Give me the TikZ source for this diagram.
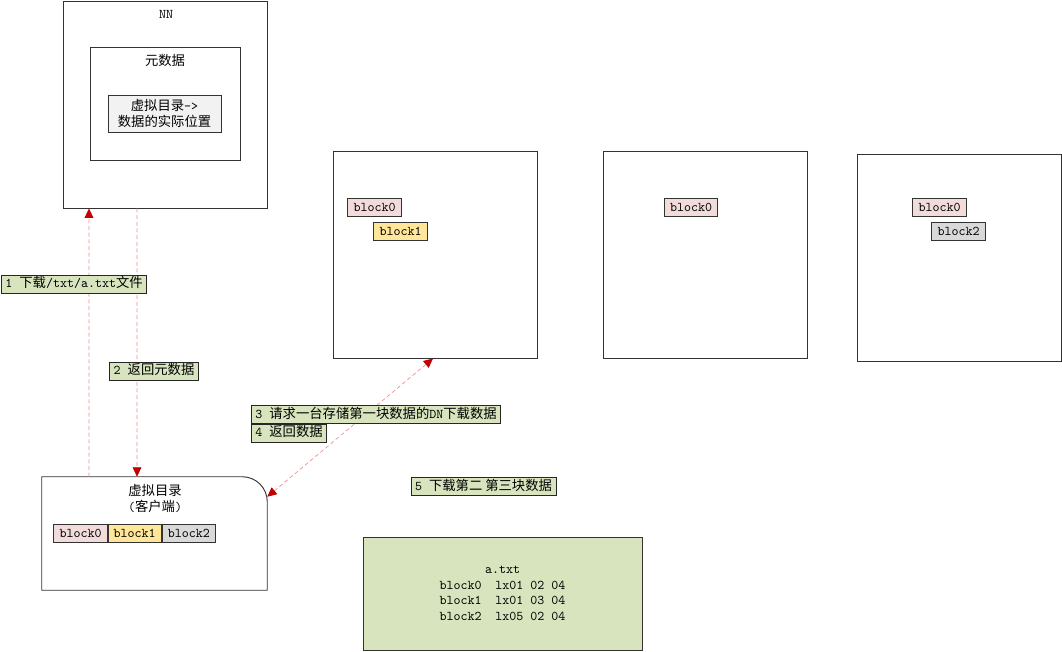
\documentclass[tikz,border=0pt]{standalone}
\usepackage{fontspec}
\newfontfamily\zhfont{Noto Sans CJK SC}
\newcommand{\zh}[1]{{\zhfont #1}}
\usetikzlibrary{arrows.meta, positioning}

\definecolor{tagfill}{RGB}{215,228,189}
\definecolor{blkpink}{RGB}{242,220,219}
\definecolor{blkyellow}{RGB}{255,230,153}
\definecolor{blkgray}{RGB}{217,217,217}
\definecolor{metafill}{RGB}{242,242,242}
\definecolor{flowline}{RGB}{240,140,140}
\definecolor{flowhead}{RGB}{192,0,0}

\tikzset{
  box/.style={draw=black!80, line width=0.7pt, fill=white, inner sep=0pt},
  sz/.style 2 args={minimum width=#1*0.75pt, minimum height=#2*0.75pt},
  blk/.style={draw=black!80, line width=0.6pt, inner sep=0pt, minimum width=40pt, minimum height=14pt},
  tag/.style={draw=black!85, line width=0.6pt, fill=tagfill, inner xsep=3pt, inner ysep=2pt, text height=7.5pt, text depth=2pt},
  flow/.style={draw=flowline, dash pattern=on 3pt off 2pt, line width=0.5pt, -{Triangle[length=7pt,width=6.5pt,color=flowhead]}},
  flowboth/.style={draw=flowline, dash pattern=on 3pt off 2pt, line width=0.5pt, {Triangle[length=7pt,width=6.5pt,color=flowhead]}-{Triangle[length=7pt,width=6.5pt,color=flowhead]}},
}

\begin{document}
\begin{tikzpicture}[x=0.75pt, y=-0.75pt, font=\ttfamily\fontsize{10}{11.8}\selectfont]
    \useasboundingbox (0,0) rectangle (1062,652);

    % name node
    \node[box, sz={204}{207}] (nn) at (165,104.5) {};
    \node (nnlbl) at (166,14) {NN};
    \node[box, sz={150}{113}] (meta) at (165,103.5) {};
    \node (metalbl) at (165,60) {\zh{元数据}};
    \node[box, fill=metafill, sz={113}{37}, align=center, font=\ttfamily\fontsize{10}{12.6}\selectfont] (map) at (164.5,113.5) {\zh{虚拟目录}->\\\zh{数据的实际位置}};

    % data nodes
    \node[box, sz={204}{207}] (dn1) at (435,254.5) {};
    \node[box, sz={204}{207}] (dn2) at (705,254.5) {};
    \node[box, sz={204}{207}] (dn3) at (959,257.5) {};
    \node[blk, fill=blkpink] (dn1b0) at (374.5,207.5) {block0};
    \node[blk, fill=blkyellow] (dn1b1) at (400.5,231.5) {block1};
    \node[blk, fill=blkpink] (dn2b0) at (691,207.5) {block0};
    \node[blk, fill=blkpink] (dn3b0) at (939.5,207.5) {block0};
    \node[blk, fill=blkgray] (dn3b2) at (958.5,231.5) {block2};

    % client
    \node[sz={225}{113}, inner sep=0pt] (client) at (154.5,533.5) {};
    \draw[box] (client.south west) -- (client.north west) -- ([xshift=-18.75pt]client.north east) arc[start angle=90, end angle=0, radius=18.75pt] -- (client.south east) -- cycle;
    \node[align=center, font=\ttfamily\fontsize{10}{12}\selectfont] (clientlbl) at (155,498) {\zh{虚拟目录}\\(\zh{客户端})};
    \node[blk, fill=blkpink] (cb0) at (80.5,533.5) {block0};
    \node[blk, fill=blkyellow, right=0pt of cb0] (cb1) {block1};
    \node[blk, fill=blkgray, right=0pt of cb1] (cb2) {block2};

    % requests
    \draw[flow] ([xshift=-49.1pt]client.north) -- ([xshift=-57pt]nn.south);
    \draw[flow] ([xshift=-21pt]nn.south) -- ([xshift=-13.1pt]client.north);
    \draw[flowboth] ([yshift=-15pt]client.north east) -- ([xshift=-1.5pt]dn1.south);

    \node[tag] (t1) at (74,284) {1 \zh{下载}/txt/a.txt\zh{文件}};
    \node[tag] (t2) at (154,371) {2 \zh{返回元数据}};
    \node[tag, anchor=north west] (t3) at (251,405) {3 \zh{请求一台存储第一块数据的}DN\zh{下载数据}};
    \node[tag, anchor=north west] (t4) at (t3.south west) {4 \zh{返回数据}};
    \node[tag] (t5) at (483.5,486.5) {5 \zh{下载第二 第三块数据}};

    % block table
    \node[box, fill=tagfill, sz={279}{113}, align=center] (table) at (502.5,593.5) {a.txt\\block0\ \ lx01 02 04\\block1\ \ lx01 03 04\\block2\ \ lx05 02 04};
\end{tikzpicture}
\end{document}
